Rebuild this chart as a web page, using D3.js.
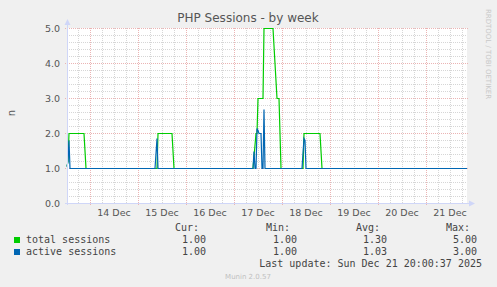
<!DOCTYPE html>
<html>
<head>
<meta charset="utf-8">
<script src="https://cdn.jsdelivr.net/npm/d3@7"></script>
<style>
  body { margin: 0; background: #f0f0f0; }
  svg { display: block; }
</style>
</head>
<body>
<div id="chart"></div>
<script>
// --- Data ---
const timeDomain = ["2025-12-13 12:30", "2025-12-21 20:30"];
const yTicks = [0, 1, 2, 3, 4, 5];
const dayLabels = ["2025-12-14", "2025-12-15", "2025-12-16", "2025-12-17",
                   "2025-12-18", "2025-12-19", "2025-12-20", "2025-12-21"];

const totalSessions = [
    ["2025-12-13 12:30", 1.05], ["2025-12-13 13:00", 1.2], ["2025-12-13 13:30", 2.0],
    ["2025-12-13 21:00", 2.0], ["2025-12-13 22:00", 1.0],
    ["2025-12-15 09:30", 1.0], ["2025-12-15 10:00", 2.0],
    ["2025-12-15 17:00", 2.0], ["2025-12-15 18:00", 1.0],
    ["2025-12-17 09:30", 1.0], ["2025-12-17 11:00", 2.0], ["2025-12-17 11:30", 2.0],
    ["2025-12-17 12:00", 3.0], ["2025-12-17 14:30", 3.0], ["2025-12-17 15:00", 5.0],
    ["2025-12-17 19:30", 5.0], ["2025-12-17 20:30", 4.0], ["2025-12-17 21:30", 3.0],
    ["2025-12-17 22:30", 3.0], ["2025-12-17 23:30", 1.0],
    ["2025-12-18 10:30", 1.0], ["2025-12-18 11:00", 2.0],
    ["2025-12-18 19:00", 2.0], ["2025-12-18 20:00", 1.0],
    ["2025-12-21 20:30", 1.0]
];

const activeSessions = [
    ["2025-12-13 12:30", 1.05], ["2025-12-13 13:00", 1.2], ["2025-12-13 13:30", 1.8],
    ["2025-12-13 14:00", 1.0],
    ["2025-12-15 08:30", 1.0], ["2025-12-15 09:30", 1.85], ["2025-12-15 10:00", 1.0],
    ["2025-12-17 09:30", 1.0], ["2025-12-17 10:00", 1.5], ["2025-12-17 10:30", 1.0],
    ["2025-12-17 11:00", 1.0], ["2025-12-17 11:30", 2.15], ["2025-12-17 12:00", 2.1],
    ["2025-12-17 12:30", 2.0], ["2025-12-17 13:30", 2.0], ["2025-12-17 14:00", 1.0],
    ["2025-12-17 14:30", 1.0], ["2025-12-17 15:00", 2.7], ["2025-12-17 15:30", 1.0],
    ["2025-12-18 10:00", 1.0], ["2025-12-18 11:00", 1.85], ["2025-12-18 11:30", 1.8],
    ["2025-12-18 12:00", 1.0],
    ["2025-12-21 20:30", 1.0]
];

const seriesNames = ["total sessions", "active sessions"];
const seriesColors = ["#00cc00", "#0066b3"];
const statHeads = ["Cur:", "Min:", "Avg:", "Max:"];
const totalStats = ["1.00", "1.00", "1.30", "5.00"];
const activeStats = ["1.00", "1.00", "1.03", "3.00"];

// --- Layout ---
const W = 497, H = 287;
const plot = { left: 67, right: 467, top: 28, bottom: 203 };
const sans = "'DejaVu Sans', sans-serif";
const mono = "'DejaVu Sans Mono', monospace";

const parseT = d3.timeParse("%Y-%m-%d %H:%M");
const parseD = d3.timeParse("%Y-%m-%d");

const svg = d3.select("#chart").append("svg")
    .attr("width", W).attr("height", H)
    .style("background", "#f0f0f0");

const x = d3.scaleTime()
    .domain(timeDomain.map(parseT))
    .range([plot.left, plot.right]);

const y = d3.scaleLinear()
    .domain([0, 5])
    .range([plot.bottom, plot.top]);

// canvas
svg.append("rect")
    .attr("x", plot.left).attr("y", plot.top)
    .attr("width", plot.right - plot.left).attr("height", plot.bottom - plot.top)
    .attr("fill", "#ffffff");

const grid = svg.append("g").attr("shape-rendering", "crispEdges");

// minor grid
grid.selectAll(".hmin").data(y.ticks(25)).join("line")
    .attr("x1", plot.left).attr("x2", plot.right)
    .attr("y1", d => Math.round(y(d)) + 0.5).attr("y2", d => Math.round(y(d)) + 0.5)
    .attr("stroke", "#d6d6d6").attr("stroke-dasharray", "1,1");

grid.selectAll(".vmin").data(x.ticks(d3.timeHour.every(6))).join("line")
    .attr("x1", d => Math.round(x(d)) + 0.5).attr("x2", d => Math.round(x(d)) + 0.5)
    .attr("y1", plot.top).attr("y2", plot.bottom)
    .attr("stroke", "#d6d6d6").attr("stroke-dasharray", "1,1");

// major grid
grid.selectAll(".hmaj").data(yTicks).join("line")
    .attr("x1", plot.left - 2).attr("x2", plot.right + 2)
    .attr("y1", d => Math.round(y(d)) + 0.5).attr("y2", d => Math.round(y(d)) + 0.5)
    .attr("stroke", "#ebb4b4").attr("stroke-dasharray", "1,1");

grid.selectAll(".vmaj").data(x.ticks(d3.timeDay.every(1))).join("line")
    .attr("x1", d => Math.round(x(d)) + 0.5).attr("x2", d => Math.round(x(d)) + 0.5)
    .attr("y1", plot.top).attr("y2", plot.bottom + 2)
    .attr("stroke", "#ebb4b4").attr("stroke-dasharray", "1,1");

// y tick labels
const yAxis = d3.axisLeft(y).tickValues(yTicks)
    .tickFormat(d3.format(".1f")).tickSize(0).tickPadding(7);
svg.append("g")
    .attr("transform", `translate(${plot.left},0)`)
    .call(yAxis)
    .call(g => g.select(".domain").remove())
    .selectAll("text")
    .attr("font-family", sans).attr("font-size", 9.5).attr("fill", "#555");

// x labels at noon
svg.append("g").selectAll("text").data(dayLabels.map(parseD)).join("text")
    .attr("x", d => x(d3.timeHour.offset(d, 12)))
    .attr("y", 216)
    .attr("text-anchor", "middle")
    .attr("font-family", sans).attr("font-size", 9.5).attr("fill", "#555")
    .text(d3.timeFormat("%d %b"));

// series
const line = d3.line()
    .x(d => x(parseT(d[0])))
    .y(d => Math.round(y(d[1])) + 0.5);

[totalSessions, activeSessions].forEach((s, i) => {
    svg.append("path")
        .datum(s)
        .attr("fill", "none")
        .attr("stroke", seriesColors[i])
        .attr("stroke-width", 1.2)
        .attr("d", line);
});

// axes with arrows
const axisColor = "#cfd6f8";
svg.append("line")
    .attr("x1", plot.left + 0.5).attr("x2", plot.left + 0.5)
    .attr("y1", plot.bottom + 2).attr("y2", plot.top - 4)
    .attr("stroke", axisColor);
svg.append("line")
    .attr("x1", plot.left - 2).attr("x2", plot.right + 3)
    .attr("y1", plot.bottom + 0.5).attr("y2", plot.bottom + 0.5)
    .attr("stroke", axisColor);
svg.append("path")
    .attr("d", `M${plot.left - 2.5},${plot.top - 3} L${plot.left + 3.5},${plot.top - 3} L${plot.left + 0.5},${plot.top - 9} Z`)
    .attr("fill", axisColor);
svg.append("path")
    .attr("d", `M${plot.right + 2},${plot.bottom - 2.5} L${plot.right + 2},${plot.bottom + 3.5} L${plot.right + 8},${plot.bottom + 0.5} Z`)
    .attr("fill", axisColor);

// title
svg.append("text")
    .attr("x", 248).attr("y", 22)
    .attr("text-anchor", "middle")
    .attr("font-family", sans).attr("font-size", 12).attr("fill", "#555")
    .text("PHP Sessions - by week");

// y axis label
svg.append("text")
    .attr("transform", "translate(15,113) rotate(-90)")
    .attr("text-anchor", "middle")
    .attr("font-family", sans).attr("font-size", 10).attr("fill", "#555")
    .text("n");

// watermark
svg.append("text")
    .attr("transform", "translate(486,54) rotate(90)")
    .attr("text-anchor", "middle")
    .attr("font-family", sans).attr("font-size", 7).attr("fill", "#c8c8c8")
    .text("RRDTOOL / TOBI OETIKER");

// legend
const statX = [199, 290, 380, 470];
const legend = svg.append("g")
    .attr("font-family", mono).attr("font-size", 10).attr("fill", "#444");

legend.selectAll(".head").data(statHeads).join("text")
    .attr("x", (d, i) => statX[i]).attr("y", 231)
    .attr("text-anchor", "end")
    .text(d => d);

[totalStats, activeStats].forEach((stats, r) => {
    const yy = 243 + r * 12;
    legend.append("rect")
        .attr("x", 14).attr("y", yy - 6)
        .attr("width", 6).attr("height", 6)
        .attr("fill", seriesColors[r]);
    legend.append("text")
        .attr("x", 26).attr("y", yy)
        .text(seriesNames[r]);
    legend.selectAll(null).data(stats).join("text")
        .attr("x", (d, i) => statX[i] + 7).attr("y", yy)
        .attr("text-anchor", "end")
        .text(d => d);
});

legend.append("text")
    .attr("x", 482).attr("y", 267)
    .attr("text-anchor", "end")
    .text("Last update: Sun Dec 21 20:00:37 2025");

svg.append("text")
    .attr("x", 248).attr("y", 279)
    .attr("text-anchor", "middle")
    .attr("font-family", sans).attr("font-size", 7).attr("fill", "#c0c0c0")
    .text("Munin 2.0.57");
</script>
</body>
</html>
